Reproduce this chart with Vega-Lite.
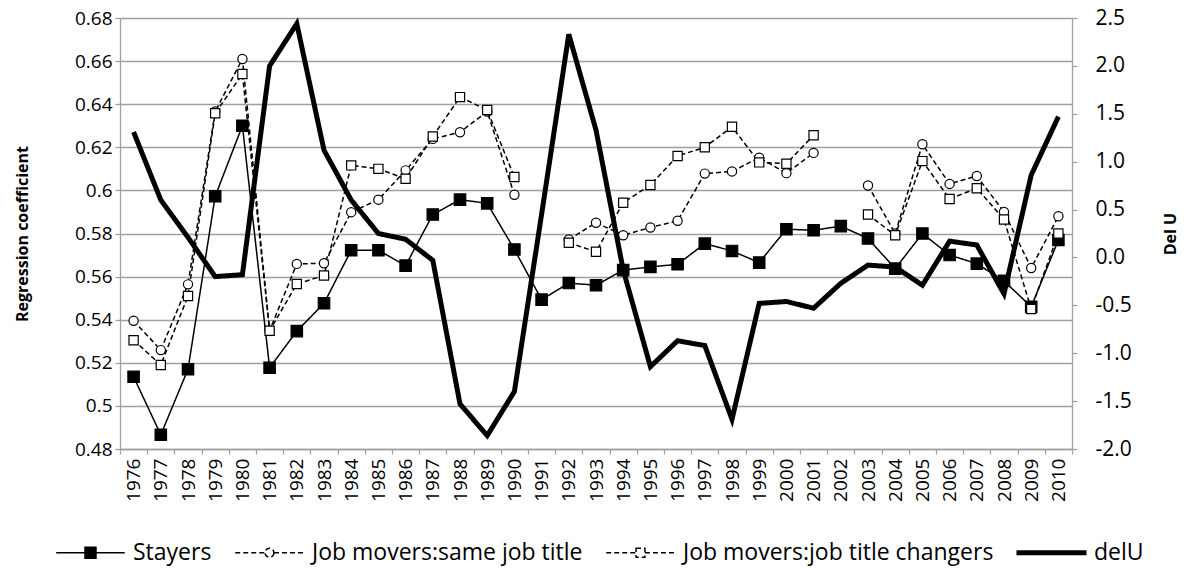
{
  "$schema": "https://vega.github.io/schema/vega-lite/v6.json",
  "autosize": {"type": "none"},
  "width": 952,
  "height": 431,
  "padding": {"left": 120, "top": 18, "right": 112, "bottom": 135},
  "background": "white",
  "config": {
    "view": {"stroke": null},
    "font": "Open Sans",
    "axis": {"labelFont": "Open Sans", "titleFont": "Open Sans", "labelColor": "black", "titleColor": "black",
             "domainColor": "#a0a0a0", "domainWidth": 1.3, "tickColor": "#a0a0a0", "tickWidth": 1.3, "tickSize": 5}
  },
  "datasets": {
    "regression": [
      {"year": 1976, "Stayers": 0.5135, "Job movers:same job title": 0.5395, "Job movers:job title changers": 0.5305, "delU": 1.31, "part": 1},
      {"year": 1977, "Stayers": 0.4866, "Job movers:same job title": 0.5259, "Job movers:job title changers": 0.519, "delU": 0.6, "part": 1},
      {"year": 1978, "Stayers": 0.517, "Job movers:same job title": 0.5564, "Job movers:job title changers": 0.551, "delU": 0.21, "part": 1},
      {"year": 1979, "Stayers": 0.5973, "Job movers:same job title": 0.6366, "Job movers:job title changers": 0.6358, "delU": -0.2, "part": 1},
      {"year": 1980, "Stayers": 0.63, "Job movers:same job title": 0.661, "Job movers:job title changers": 0.654, "delU": -0.18, "part": 1},
      {"year": 1981, "Stayers": 0.5177, "Job movers:same job title": 0.535, "Job movers:job title changers": 0.5349, "delU": 2.0, "part": 1},
      {"year": 1982, "Stayers": 0.5347, "Job movers:same job title": 0.5659, "Job movers:job title changers": 0.5566, "delU": 2.44, "part": 1},
      {"year": 1983, "Stayers": 0.5476, "Job movers:same job title": 0.5662, "Job movers:job title changers": 0.5605, "delU": 1.12, "part": 1},
      {"year": 1984, "Stayers": 0.5722, "Job movers:same job title": 0.5899, "Job movers:job title changers": 0.6116, "delU": 0.6, "part": 1},
      {"year": 1985, "Stayers": 0.5722, "Job movers:same job title": 0.5957, "Job movers:job title changers": 0.61, "delU": 0.25, "part": 1},
      {"year": 1986, "Stayers": 0.5651, "Job movers:same job title": 0.6093, "Job movers:job title changers": 0.6054, "delU": 0.19, "part": 1},
      {"year": 1987, "Stayers": 0.5888, "Job movers:same job title": 0.6239, "Job movers:job title changers": 0.625, "delU": -0.03, "part": 1},
      {"year": 1988, "Stayers": 0.5957, "Job movers:same job title": 0.627, "Job movers:job title changers": 0.6433, "delU": -1.53, "part": 1},
      {"year": 1989, "Stayers": 0.594, "Job movers:same job title": 0.6366, "Job movers:job title changers": 0.6373, "delU": -1.86, "part": 1},
      {"year": 1990, "Stayers": 0.5726, "Job movers:same job title": 0.598, "Job movers:job title changers": 0.6062, "delU": -1.4, "part": 1},
      {"year": 1991, "Stayers": 0.5493, "Job movers:same job title": null, "Job movers:job title changers": null, "delU": 0.45, "part": 2},
      {"year": 1992, "Stayers": 0.557, "Job movers:same job title": 0.5772, "Job movers:job title changers": 0.5757, "delU": 2.33, "part": 2},
      {"year": 1993, "Stayers": 0.556, "Job movers:same job title": 0.585, "Job movers:job title changers": 0.5715, "delU": 1.33, "part": 2},
      {"year": 1994, "Stayers": 0.563, "Job movers:same job title": 0.5792, "Job movers:job title changers": 0.5943, "delU": -0.13, "part": 2},
      {"year": 1995, "Stayers": 0.5645, "Job movers:same job title": 0.5828, "Job movers:job title changers": 0.6025, "delU": -1.14, "part": 2},
      {"year": 1996, "Stayers": 0.5657, "Job movers:same job title": 0.5859, "Job movers:job title changers": 0.616, "delU": -0.87, "part": 2},
      {"year": 1997, "Stayers": 0.5753, "Job movers:same job title": 0.6078, "Job movers:job title changers": 0.62, "delU": -0.92, "part": 2},
      {"year": 1998, "Stayers": 0.5719, "Job movers:same job title": 0.6088, "Job movers:job title changers": 0.6295, "delU": -1.69, "part": 2},
      {"year": 1999, "Stayers": 0.5665, "Job movers:same job title": 0.6152, "Job movers:job title changers": 0.613, "delU": -0.48, "part": 2},
      {"year": 2000, "Stayers": 0.582, "Job movers:same job title": 0.608, "Job movers:job title changers": 0.6124, "delU": -0.46, "part": 2},
      {"year": 2001, "Stayers": 0.5815, "Job movers:same job title": 0.6174, "Job movers:job title changers": 0.6256, "delU": -0.53, "part": 2},
      {"year": 2002, "Stayers": 0.5834, "Job movers:same job title": null, "Job movers:job title changers": null, "delU": -0.27, "part": 3},
      {"year": 2003, "Stayers": 0.5777, "Job movers:same job title": 0.6023, "Job movers:job title changers": 0.5888, "delU": -0.08, "part": 3},
      {"year": 2004, "Stayers": 0.5637, "Job movers:same job title": 0.58, "Job movers:job title changers": 0.5792, "delU": -0.1, "part": 3},
      {"year": 2005, "Stayers": 0.58, "Job movers:same job title": 0.6214, "Job movers:job title changers": 0.6136, "delU": -0.29, "part": 3},
      {"year": 2006, "Stayers": 0.57, "Job movers:same job title": 0.603, "Job movers:job title changers": 0.596, "delU": 0.17, "part": 3},
      {"year": 2007, "Stayers": 0.566, "Job movers:same job title": 0.6067, "Job movers:job title changers": 0.601, "delU": 0.13, "part": 3},
      {"year": 2008, "Stayers": 0.558, "Job movers:same job title": 0.59, "Job movers:job title changers": 0.5865, "delU": -0.38, "part": 3},
      {"year": 2009, "Stayers": 0.546, "Job movers:same job title": 0.564, "Job movers:job title changers": 0.545, "delU": 0.86, "part": 3},
      {"year": 2010, "Stayers": 0.577, "Job movers:same job title": 0.588, "Job movers:job title changers": 0.58, "delU": 1.47, "part": 3}
    ]
  },
  "data": {"name": "regression"},
  "transform": [
    {"fold": ["Stayers", "Job movers:same job title", "Job movers:job title changers", "delU"], "as": ["series", "value"]},
    {"filter": "isValid(datum.value)"}
  ],
  "encoding": {
    "x": {
      "field": "year", "type": "ordinal", "bandPosition": 0.5,
      "scale": {"type": "band", "paddingInner": 0, "paddingOuter": 0},
      "axis": {"title": null, "labelAngle": -90, "labelFontSize": 19, "labelPadding": 4, "tickBand": "extent", "grid": false}
    }
  },
  "layer": [
    {
      "encoding": {
        "y": {
          "field": "value", "type": "quantitative",
          "scale": {"domain": [0.48, 0.68], "nice": false, "zero": false},
          "axis": {
            "title": "Regression coefficient", "titleFontSize": 16, "titleFontWeight": "bold", "titlePadding": 44,
            "values": [0.48, 0.5, 0.52, 0.54, 0.56, 0.58, 0.6, 0.62, 0.64, 0.66, 0.68],
            "format": ".2~f", "labelFontSize": 19, "labelPadding": 3,
            "grid": true, "gridColor": "#a0a0a0", "gridWidth": 1.3
          }
        }
      },
      "layer": [
        {
          "transform": [{"filter": "datum.series === 'Stayers'"}],
          "mark": {"type": "line", "color": "black", "strokeWidth": 1.5},
          "encoding": {
            "strokeDash": {
              "field": "series", "type": "nominal",
              "scale": {"domain": ["Stayers", "Job movers:same job title", "Job movers:job title changers", "delU"], "range": [[1, 0], [5, 3], [5, 3], [1, 0]]}
            }
          }
        },
        {
          "transform": [{"filter": "datum.series !== 'Stayers' && datum.series !== 'delU'"}],
          "mark": {"type": "line", "color": "black", "strokeWidth": 1.5},
          "encoding": {
            "strokeDash": {"field": "series", "type": "nominal"},
            "detail": {"field": "part", "type": "nominal"}
          }
        },
        {
          "transform": [{"filter": "datum.series !== 'delU'"}],
          "mark": {"type": "point", "filled": true, "stroke": "black", "strokeWidth": 1.2, "opacity": 1},
          "encoding": {
            "shape": {"condition": {"test": "datum.series === 'Job movers:same job title'", "value": "circle"}, "value": "square"},
            "fill": {"condition": {"test": "datum.series === 'Stayers'", "value": "black"}, "value": "white"},
            "size": {"condition": {"test": "datum.series === 'Stayers'", "value": 130}, "value": 85}
          }
        },
        {
          "transform": [{"filter": "datum.year < 0"}],
          "mark": {"type": "point", "color": "black", "opacity": 1},
          "encoding": {
            "strokeDash": {"field": "series", "type": "nominal"},
            "fill": {
              "field": "series", "type": "nominal",
              "scale": {
                "domain": ["Stayers", "Job movers:same job title", "Job movers:job title changers", "delU"],
                "range": ["black", "white", "white", "black"]
              }
            },
            "shape": {
              "field": "series", "type": "nominal",
              "scale": {
                "domain": ["Stayers", "Job movers:same job title", "Job movers:job title changers", "delU"],
                "range": [
                  "M-1,0H1M-0.16,-0.16H0.16V0.16H-0.16Z",
                  "M-1,0H-0.13M0.13,0H1M0.13,0A0.13,0.13,0,1,1,-0.13,0A0.13,0.13,0,1,1,0.13,0Z",
                  "M-1,0H-0.13M0.13,0H1M-0.13,-0.13H0.13V0.13H-0.13Z",
                  "M-1,-0.05H1V0.05H-1Z"
                ]
              },
              "legend": {
                "title": null, "orient": "none", "legendX": -65, "legendY": 499, "direction": "horizontal", "padding": 0,
                "symbolSize": 4700, "symbolStrokeWidth": 1.5, "symbolStrokeColor": "black", "symbolOpacity": 1,
                "labelFont": "Open Sans", "labelFontSize": 23, "labelColor": "black", "labelLimit": 600,
                "labelOffset": 7, "columnPadding": 20
              }
            }
          }
        }
      ]
    },
    {
      "transform": [{"filter": "datum.series === 'delU'"}],
      "mark": {"type": "line", "color": "black", "strokeWidth": 5, "strokeJoin": "miter"},
      "encoding": {
        "y": {
          "field": "value", "type": "quantitative",
          "scale": {"domain": [-2, 2.5], "nice": false, "zero": false},
          "axis": {
            "orient": "right", "title": "Del U", "titleFontSize": 16, "titleFontWeight": "bold", "titleAngle": 270, "titlePadding": 47,
            "values": [-2, -1.5, -1, -0.5, 0, 0.5, 1, 1.5, 2, 2.5],
            "labelExpr": "replace(format(datum.value, '.1f'), '\u2212', '-')",
            "labelFontSize": 21, "labelPadding": 18, "grid": false
          }
        },
        "strokeDash": {"field": "series", "type": "nominal"}
      }
    }
  ],
  "resolve": {"scale": {"y": "independent"}}
}
